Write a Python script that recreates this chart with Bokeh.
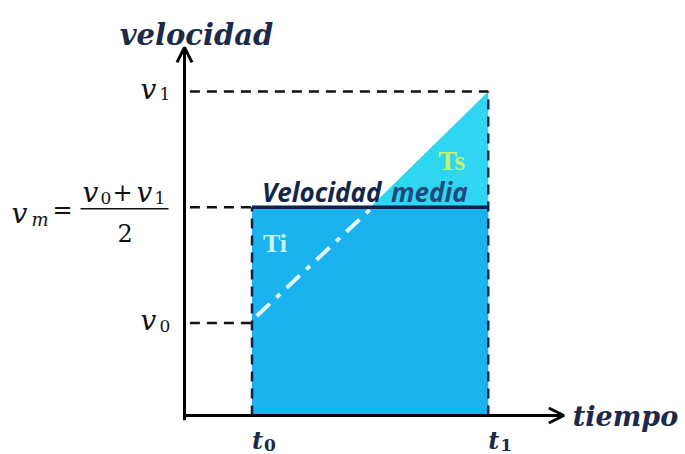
from bokeh.plotting import figure
from bokeh.models import Label, Arrow, OpenHead, Range1d
from bokeh.embed import file_html
from bokeh.resources import INLINE

# --- quantities of the uniformly accelerated motion -----------------------
t_values = [1.0, 4.5]          # t0, t1
t_subs = ["0", "1"]
v_values = [2.0, 7.0]          # v0, v1
v_subs = ["0", "1"]
x_axis_end = 5.62              # extent of the drawn time axis
y_axis_end = 7.95              # extent of the drawn velocity axis

t0, t1 = t_values
v0, v1 = v_values
vm = (v0 + v1) / 2
# time at which the velocity line crosses the mean velocity
t_cross = t0 + (vm - v0) / (v1 - v0) * (t1 - t0)

W, H = 685, 454
PX_X, PX_Y = 67.5, 46.3        # pixels per unit
OX, OY = 184, 415              # origin position on the canvas

p = figure(width=W, height=H, output_backend="svg", toolbar_location=None,
           x_axis_location=None, y_axis_location=None, min_border=0,
           x_range=Range1d(-OX / PX_X, (W - OX) / PX_X),
           y_range=Range1d(-(H - OY) / PX_Y, OY / PX_Y))
p.grid.visible = False
p.outline_line_color = None
p.background_fill_color = "white"
p.border_fill_color = "white"

NAVY = "#0d2347"
BLUE = "#1ab2ef"
CYAN = "#2fd6f1"

# area under the mean velocity (Ti region) and the upper triangle (Ts)
p.quad(left=[t0], right=[t1], bottom=[0], top=[vm], fill_color=BLUE, line_color=None)
p.patch([t_cross, t1, t1], [vm, v1, vm], fill_color=CYAN, line_color=None)

# velocity line inside the rectangle, dash-dot
p.line([t0 + 0.07, t_cross], [v0 + 0.15, vm - 0.05], line_color="#dff7f9",
       line_width=4, line_dash="18 9 5 9")

# mean velocity line
p.line([t0, t1], [vm, vm], line_color=NAVY, line_width=3.5)

# guide lines
dash = "10 7"
p.line([0.08, t1], [v1, v1], line_color="#111111", line_width=2.5, line_dash=dash)
p.line([0.08, t0], [vm, vm], line_color="#111111", line_width=2.5, line_dash=dash)
p.line([0.08, t0], [v0, v0], line_color="#111111", line_width=2.5, line_dash=dash)
p.line([t0, t0], [0, vm], line_color=NAVY, line_width=2.5, line_dash=dash)
p.line([t1, t1], [0, v1], line_color=NAVY, line_width=2.5, line_dash=dash)

# axes with open arrow heads
p.add_layout(Arrow(x_start=0, y_start=-0.1, x_end=0, y_end=y_axis_end,
                   line_width=3, line_color="black",
                   end=OpenHead(size=15, line_width=3, line_color="black")))
p.add_layout(Arrow(x_start=-0.02, y_start=0, x_end=x_axis_end, y_end=0,
                   line_width=3, line_color="black",
                   end=OpenHead(size=15, line_width=3, line_color="black")))

SERIF = "DejaVu Serif"


def lab(x, y, text, xo, yo, size, color="black", style="italic",
        font=SERIF, align="left", baseline="alphabetic"):
    p.add_layout(Label(x=x, y=y, text=text, x_offset=xo, y_offset=yo,
                       text_font=font, text_font_size=f"{size}px",
                       text_font_style=style, text_color=color,
                       text_align=align, text_baseline=baseline))


# axis titles
lab(0, y_axis_end, "velocidad", 12, 12, 29, color="#1b2a4a",
    style="bold italic", align="center")
lab(x_axis_end, 0, "tiempo", 9, -1, 27, color="#1b2a4a", style="bold italic")

# velocity tick labels
for v, s in zip(v_values, v_subs):
    lab(0, v, "v", -44, 2, 28, color="#111111")
    lab(0, v, s, -25, -3, 17, color="#111111", style="normal")

# mean velocity formula
lab(0, vm, "v", -173, -6, 28, color="#111111")
lab(0, vm, "m", -153, -12, 18, color="#111111")
lab(0, vm, "=", -132, -3, 24, color="#111111", style="normal")
lab(0, vm, "v", -102, 15, 28, color="#111111")
lab(0, vm, "0", -84, 9, 17, color="#111111", style="normal")
lab(0, vm, "+", -72, 15, 24, color="#111111", style="normal")
lab(0, vm, "v", -48, 15, 28, color="#111111")
lab(0, vm, "1", -30, 9, 17, color="#111111", style="normal")
lab(0, vm, "2", -67, -26, 24, color="#111111", style="normal")
p.line([-104 / PX_X, -16 / PX_X], [vm - 1.5 / PX_Y, vm - 1.5 / PX_Y],
       line_color="#111111", line_width=1.5)

# time tick labels
for t, s in zip(t_values, t_subs):
    lab(t, 0, "t", 0, -25, 24, color="#1b2a4a", style="bold italic")
    lab(t, 0, s, 12, -29, 17, color="#1b2a4a", style="bold")

# region annotations
lab(t0, vm, "Velocidad", 10, 15, 26, color="#13264a", style="bold italic",
    font="Open Sans")
lab(t0, vm, "media", 139, 15, 26, color="#1f4a7d", style="bold italic",
    font="Open Sans")
lab(t0, vm, "Ti", 11, -36, 26, color="#c8f4ee", style="bold", font="Liberation Serif")
lab(t1, vm, "Ts", -50, 47, 28, color="#c8f06a", style="bold", font="Liberation Serif")

open("out.html", "w").write(file_html(p, INLINE))
